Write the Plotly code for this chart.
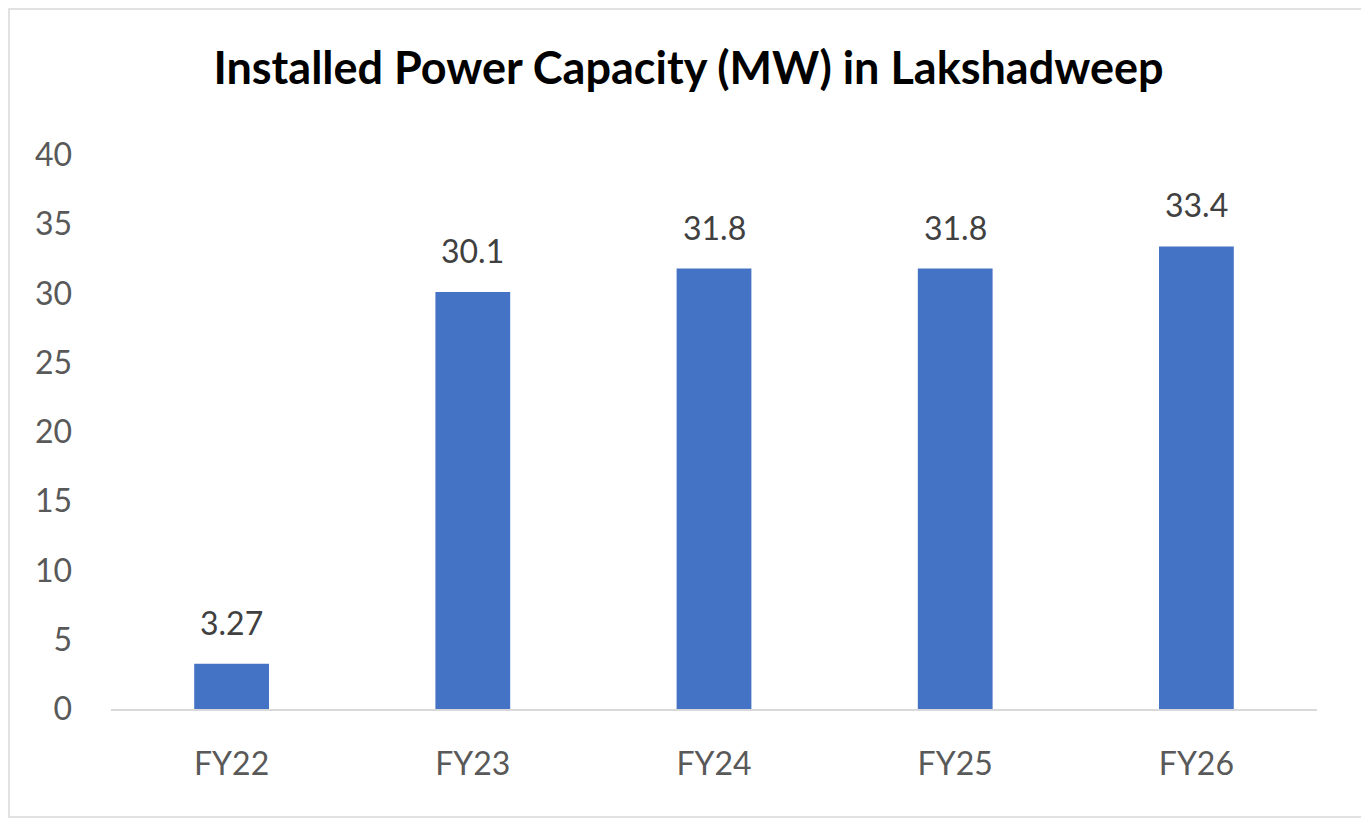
import plotly.graph_objects as go

categories = ["FY22", "FY23", "FY24", "FY25", "FY26"]
capacity_mw = [3.27, 30.1, 31.8, 31.8, 33.4]
labels = ["3.27", "30.1", "31.8", "31.8", "33.4"]

# page body has an 8px margin, so the figure is sized/placed to allow for it
W, H = 1361, 810
L, T = 103, 147
pw, ph = 1206, 554
R, B = W - L - pw, H - T - ph

fig = go.Figure()
fig.add_trace(go.Bar(x=categories, y=capacity_mw, marker_color="#4472c4",
                     marker_line_width=0, showlegend=False, hoverinfo="x+y"))

for c, v, t in zip(categories, capacity_mw, labels):
    fig.add_annotation(x=c, y=v, text=t, showarrow=False, yanchor="bottom",
                       yshift=20, font=dict(size=32, color="#404040"))

# light grey frame round the whole chart
fig.add_shape(type="rect", xref="paper", yref="paper",
              x0=-(L - 1) / pw, x1=(W - 1 - L) / pw,
              y0=-(B - 1) / ph, y1=(H - 1 - B) / ph,
              line=dict(color="#d9d9d9", width=1.5), layer="below")

fig.update_layout(
    width=W, height=H,
    margin=dict(l=L, r=R, t=T, b=B),
    paper_bgcolor="white", plot_bgcolor="white",
    font=dict(family="Lato", color="#595959", size=32),
    title=dict(text="<b>Installed Power Capacity (MW) in Lakshadweep</b>",
               x=0.5, xanchor="center", y=1 - 60 / H, yanchor="middle",
               font=dict(size=45, color="black")),
    bargap=0.69,
)
fig.update_xaxes(showline=True, linecolor="#d9d9d9", linewidth=1.5,
                 ticks="", ticklabelstandoff=26, showgrid=False)
fig.update_yaxes(range=[0, 40], dtick=5, showgrid=False, zeroline=False,
                 ticks="", ticklabelstandoff=38)

fig.write_html("out.html")
